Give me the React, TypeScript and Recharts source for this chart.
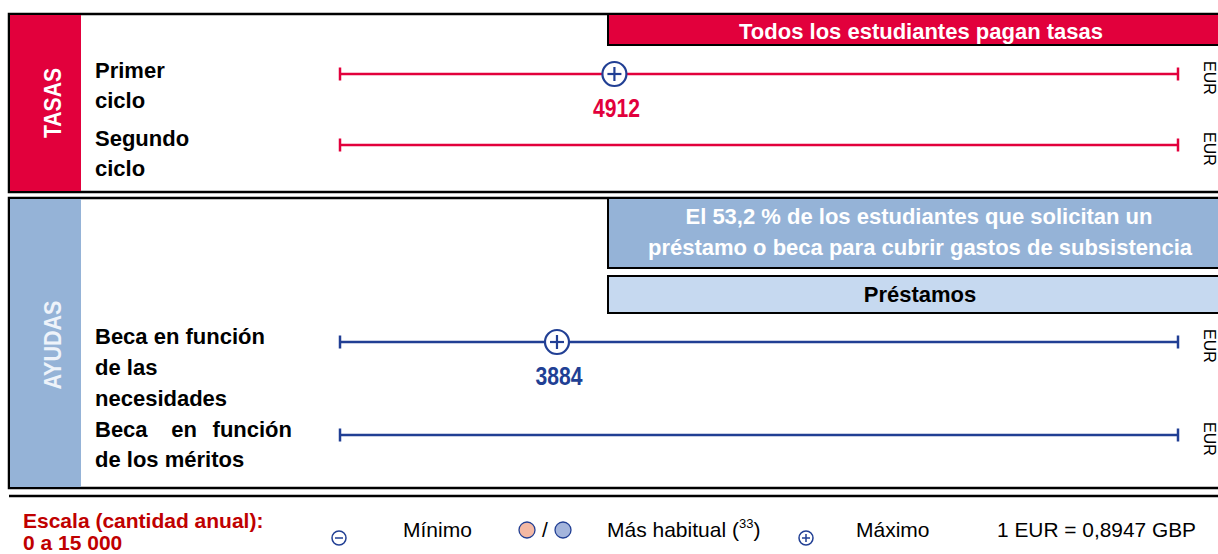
import { ComposedChart, XAxis, YAxis, Scatter, Customized } from 'recharts';

// Rows of the chart (top to bottom)
const ROWS = ['Primer ciclo', 'Segundo ciclo', 'Beca en función de las necesidades', 'Beca en función de los méritos'];
// Maximum amount per row (EUR / year); null = none shown
const MAXIMO: (number | null)[] = [4912, null, 3884, null];
// Scale of every row
const SCALE_MIN = 0;
const SCALE_MAX = 15000;
const SECTION = ['TASAS', 'TASAS', 'AYUDAS', 'AYUDAS'];

// layout: vertical placement of each row (px)
const ROW_Y = [74, 145, 342, 435];

const W = 1218;
const H = 554;
const RED = '#e2003c';
const NAVY = '#213f94';
const BAND_BLUE = '#95b3d7';
const BAND_LIGHT = '#c6d9f0';
const FONT = '"Liberation Sans", Arial, sans-serif';

const rowColor = (i: number) => (SECTION[i] === 'TASAS' ? RED : NAVY);

const EndTick = (props: any) => {
  const { cx, cy, fill } = props;
  return <line x1={cx} x2={cx} y1={cy - 6.5} y2={cy + 6.5} stroke={fill} strokeWidth={2.5} />;
};

const MaxMarker = (props: any) => {
  const { cx, cy, payload } = props;
  return (
    <g>
      <circle cx={cx} cy={cy} r={12} fill="#fff" stroke={NAVY} strokeWidth={2.2} />
      <line x1={cx - 7} x2={cx + 7} y1={cy} y2={cy} stroke={NAVY} strokeWidth={2.2} />
      <line x1={cx} x2={cx} y1={cy - 7} y2={cy + 7} stroke={NAVY} strokeWidth={2.2} />
      <text
        x={cx + 2}
        y={cy + 43}
        textAnchor="middle"
        fill={payload.color}
        fontFamily={FONT}
        fontWeight="bold"
        fontSize={26}
        textLength={47}
        lengthAdjust="spacingAndGlyphs"
      >
        {payload.x}
      </text>
    </g>
  );
};

const Frames = () => (
  <g fontFamily={FONT}>
    {/* TASAS block */}
    <rect x={9} y={14} width={1214} height={178} fill="none" stroke="#000" strokeWidth={2.5} />
    <rect x={10} y={15} width={71} height={176} fill={RED} />
    <text transform="translate(61,103) rotate(-90)" textAnchor="middle" fill="#fff" fontWeight="bold" fontSize={23} textLength={70} lengthAdjust="spacingAndGlyphs">
      TASAS
    </text>
    <rect x={608} y={14} width={614} height={31} fill={RED} stroke="#000" strokeWidth={2} />
    <text x={921} y={39} textAnchor="middle" fill="#fff" fontWeight="bold" fontSize={22}>
      Todos los estudiantes pagan tasas
    </text>

    {/* AYUDAS block */}
    <rect x={9} y={198} width={1214} height={290} fill="none" stroke="#000" strokeWidth={2.5} />
    <rect x={10} y={199} width={71} height={288} fill={BAND_BLUE} />
    <text transform="translate(61,345) rotate(-90)" textAnchor="middle" fill="#eef3fa" fontWeight="bold" fontSize={23} textLength={89} lengthAdjust="spacingAndGlyphs">
      AYUDAS
    </text>
    <rect x={608} y={198} width={614} height={70} fill={BAND_BLUE} stroke="#000" strokeWidth={2} />
    <text x={919} y={224} textAnchor="middle" fill="#fff" fontWeight="bold" fontSize={22}>
      El 53,2 % de los estudiantes que solicitan un
    </text>
    <text x={920} y={255} textAnchor="middle" fill="#fff" fontWeight="bold" fontSize={22}>
      préstamo o beca para cubrir gastos de subsistencia
    </text>
    <rect x={608} y={276} width={614} height={37} fill={BAND_LIGHT} stroke="#000" strokeWidth={2} />
    <text x={920} y={302} textAnchor="middle" fill="#000" fontWeight="bold" fontSize={22}>
      Préstamos
    </text>

    <line x1={9} x2={W} y1={496} y2={496} stroke="#000" strokeWidth={2.5} />

    {/* row labels */}
    <g fontWeight="bold" fontSize={22} fill="#000">
      <text x={95} y={78}>Primer</text>
      <text x={95} y={108}>ciclo</text>
      <text x={95} y={146}>Segundo</text>
      <text x={95} y={176}>ciclo</text>
      <text x={95} y={344}>Beca en función</text>
      <text x={95} y={375}>de las</text>
      <text x={95} y={406}>necesidades</text>
      <text x={95} y={437}>Beca</text>
      <text x={184} y={437} textAnchor="middle">en</text>
      <text x={292} y={437} textAnchor="end">función</text>
      <text x={95} y={467}>de los méritos</text>
    </g>

    {/* currency labels */}
    {ROW_Y.map((y, i) => (
      <text key={ROWS[i]} transform={`translate(1204,${y + 4}) rotate(90)`} textAnchor="middle" fontSize={16} fill="#000">
        EUR
      </text>
    ))}

    {/* legend */}
    <text x={23} y={528} fill="#c00000" fontWeight="bold" fontSize={21}>Escala (cantidad anual):</text>
    <text x={23} y={550} fill="#c00000" fontWeight="bold" fontSize={21}>0 a 15 000</text>
    <circle cx={339} cy={538} r={7} fill="none" stroke={NAVY} strokeWidth={1.5} />
    <line x1={335} x2={343} y1={538} y2={538} stroke={NAVY} strokeWidth={1.5} />
    <text x={403} y={537} fontSize={21} fill="#000">Mínimo</text>
    <circle cx={527} cy={530} r={8} fill="#f4b9a4" stroke={NAVY} strokeWidth={1.3} />
    <text x={545} y={537} textAnchor="middle" fontSize={21} fill="#000">/</text>
    <circle cx={563} cy={530} r={8} fill="#a4b5dc" stroke={NAVY} strokeWidth={1.3} />
    <text x={607} y={537} fontSize={21} fill="#000">
      Más habitual (<tspan fontSize={13} dy={-9}>33</tspan><tspan dy={9}>)</tspan>
    </text>
    <circle cx={806} cy={538} r={7} fill="none" stroke={NAVY} strokeWidth={1.5} />
    <line x1={802} x2={810} y1={538} y2={538} stroke={NAVY} strokeWidth={1.5} />
    <line x1={806} x2={806} y1={534} y2={542} stroke={NAVY} strokeWidth={1.5} />
    <text x={856} y={537} fontSize={21} fill="#000">Máximo</text>
    <text x={997} y={537} fontSize={21} fill="#000" textLength={199} lengthAdjust="spacingAndGlyphs">1 EUR = 0,8947 GBP</text>
  </g>
);

export default function App() {
  return (
    <div style={{ position: 'absolute', left: 0, top: 0, width: W, height: H, background: '#fff' }}>
      <ComposedChart width={W} height={H} margin={{ top: 0, right: 40, left: 340, bottom: 0 }}>
        <XAxis type="number" dataKey="x" domain={[SCALE_MIN, SCALE_MAX]} hide />
        <YAxis type="number" dataKey="y" domain={[0, H]} reversed hide />
        <Customized component={Frames} />
        {ROWS.map((row, i) => (
          <Scatter
            key={row}
            name={row}
            data={[
              { x: SCALE_MIN, y: ROW_Y[i] },
              { x: SCALE_MAX, y: ROW_Y[i] },
            ]}
            fill={rowColor(i)}
            line={{ stroke: rowColor(i), strokeWidth: 2.5 }}
            shape={<EndTick />}
            isAnimationActive={false}
          />
        ))}
        {ROWS.map((row, i) =>
          MAXIMO[i] == null ? null : (
            <Scatter
              key={row + '-max'}
              name={row + ' máximo'}
              data={[{ x: MAXIMO[i], y: ROW_Y[i], color: rowColor(i) }]}
              fill={NAVY}
              shape={<MaxMarker />}
              isAnimationActive={false}
            />
          ),
        )}
      </ComposedChart>
    </div>
  );
}
